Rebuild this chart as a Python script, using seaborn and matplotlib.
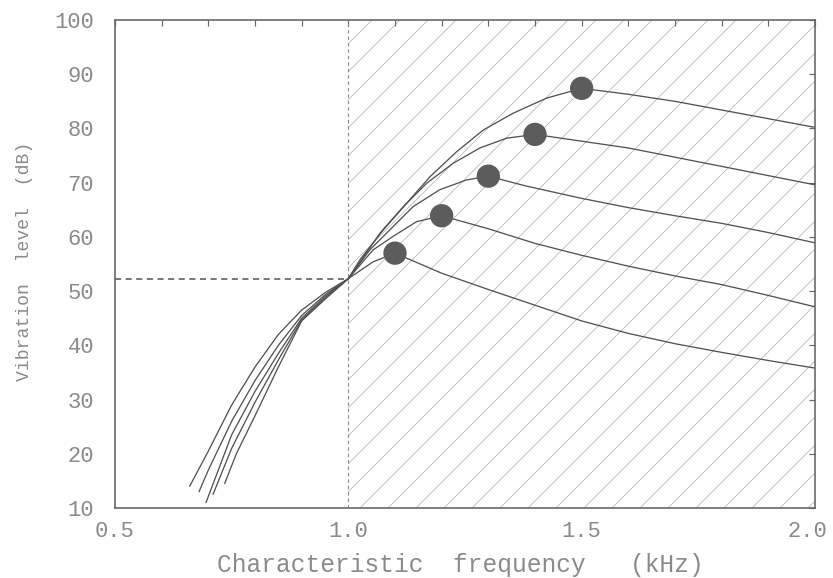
import numpy as np
import pandas as pd
import matplotlib
matplotlib.use("Agg")
import matplotlib.pyplot as plt
import matplotlib.transforms as mtransforms
import seaborn as sns

# curves (frequency in kHz, level in dB)
c1_x = [0.66, 0.70, 0.75, 0.80, 0.85, 0.90, 0.95, 1.00, 1.053, 1.10, 1.20, 1.30, 1.40, 1.50, 1.60, 1.70, 1.80, 1.90, 2.00]
c1_y = [14.0, 20.5, 29.0, 36.0, 42.0, 46.5, 49.7, 52.3, 55.4, 57.0, 53.3, 50.3, 47.4, 44.5, 42.2, 40.3, 38.7, 37.2, 35.8]

c2_x = [0.68, 0.70, 0.75, 0.80, 0.85, 0.90, 0.95, 1.00, 1.053, 1.096, 1.146, 1.20, 1.30, 1.40, 1.50, 1.60, 1.70, 1.80, 1.90, 2.00]
c2_y = [13.0, 17.0, 26.0, 33.5, 40.0, 45.5, 49.3, 52.3, 57.6, 60.1, 62.8, 63.9, 61.5, 58.8, 56.6, 54.6, 52.8, 51.2, 49.2, 47.1]

c3_x = [0.695, 0.75, 0.80, 0.85, 0.90, 0.95, 1.00, 1.046, 1.089, 1.139, 1.196, 1.253, 1.30, 1.38, 1.50, 1.60, 1.70, 1.80, 1.90, 2.00]
c3_y = [11.0, 23.5, 31.5, 38.5, 45.0, 49.0, 52.3, 57.6, 61.3, 65.6, 68.7, 70.5, 71.2, 69.4, 67.1, 65.4, 63.9, 62.5, 60.8, 58.9]

c4_x = [0.71, 0.75, 0.80, 0.85, 0.90, 0.95, 1.00, 1.068, 1.118, 1.168, 1.225, 1.282, 1.339, 1.40, 1.48, 1.60, 1.70, 1.80, 1.90, 2.00]
c4_y = [12.5, 21.0, 29.5, 37.3, 44.7, 48.7, 52.3, 60.7, 65.6, 69.9, 73.6, 76.4, 78.2, 78.9, 77.9, 76.4, 74.7, 73.0, 71.3, 69.6]

c5_x = [0.735, 0.76, 0.80, 0.85, 0.90, 0.95, 1.00, 1.025, 1.075, 1.125, 1.175, 1.232, 1.289, 1.353, 1.425, 1.50, 1.60, 1.70, 1.80, 1.90, 2.00]
c5_y = [14.5, 20.0, 27.0, 36.0, 44.5, 48.5, 52.3, 55.8, 61.3, 66.2, 71.1, 75.7, 79.7, 82.8, 85.6, 87.4, 86.3, 85.0, 83.4, 81.8, 80.2]

# peak markers
peak_x = [1.1, 1.2, 1.3, 1.4, 1.5]
peak_y = [57.0, 63.9, 71.2, 78.9, 87.4]

# reference point (dashed lines / start of hatched region)
cf_ref = 1.0
level_ref = 52.3

x_ticks = [0.5, 1.0, 1.5, 2.0]
x_ticklabels = ["0.5", "1.0", "1.5", "2.0"]
y_ticks = [10, 20, 30, 40, 50, 60, 70, 80, 90, 100]

frames = []
for i, (xs, ys) in enumerate([(c1_x, c1_y), (c2_x, c2_y), (c3_x, c3_y), (c4_x, c4_y), (c5_x, c5_y)]):
    frames.append(pd.DataFrame({"freq": xs, "level": ys, "curve": i}))
df = pd.concat(frames, ignore_index=True)
peaks = pd.DataFrame({"freq": peak_x, "level": peak_y})

sns.set_style("white")
plt.rcParams["font.family"] = ["Liberation Mono", "DejaVu Sans Mono"]
plt.rcParams["hatch.linewidth"] = 0.7

DPI = 84
fig = plt.figure(figsize=(833 / DPI, 578 / DPI), dpi=DPI)
ax = fig.add_axes([115 / 833, 1 - 508 / 578, 700 / 833, 488 / 578])

txt = "#8a8a8a"
ink = "#505050"

# hatched region above the reference frequency
ax.axvspan(cf_ref, 2.0, facecolor="none", edgecolor="#b8b8b8", hatch="/", linewidth=0, zorder=0)
ax.axvline(cf_ref, color="#8c8c8c", lw=1.0, ls=(0, (3, 2.5)), zorder=1)
ax.plot([0.5, cf_ref], [level_ref, level_ref], color=ink, lw=1.3, ls=(0, (4, 3)), zorder=1)

sns.lineplot(data=df, x="freq", y="level", units="curve", estimator=None, sort=False,
             color=ink, lw=1.1, ax=ax, zorder=2)
sns.scatterplot(data=peaks, x="freq", y="level", s=400, color="#5c5c5c", edgecolor="none",
                ax=ax, zorder=3)

ax.set_xlim(0.5, 2.0)
ax.set_ylim(10, 100)
ax.set_xticks(x_ticks)
ax.set_xticklabels(x_ticklabels)
ax.set_xticks(np.arange(0.6, 2.0, 0.1), minor=True)
ax.set_yticks(y_ticks)
ax.tick_params(axis="both", which="both", direction="in", top=True, right=True,
               length=5, width=1.0, color="#666666", labelcolor=txt, labelsize=19)
ax.tick_params(axis="x", which="major", pad=11)
ax.tick_params(axis="y", which="major", pad=18)
for s in ax.spines.values():
    s.set_color("#666666")
    s.set_linewidth(1.4)

# keep the last x label inside the canvas
last = ax.get_xticklabels()[-1]
last.set_transform(last.get_transform() + mtransforms.ScaledTranslation(-8 / DPI, 0, fig.dpi_scale_trans))

ax.set_xlabel("Characteristic  frequency   (kHz)", color=txt, fontsize=21)
ax.set_ylabel("Vibration  level  (dB)", color=txt, fontsize=15.5)
ax.xaxis.set_label_coords(0.493, -0.092)
ax.yaxis.set_label_coords(-0.117, 0.506)

fig.savefig("out.png", dpi=DPI)
